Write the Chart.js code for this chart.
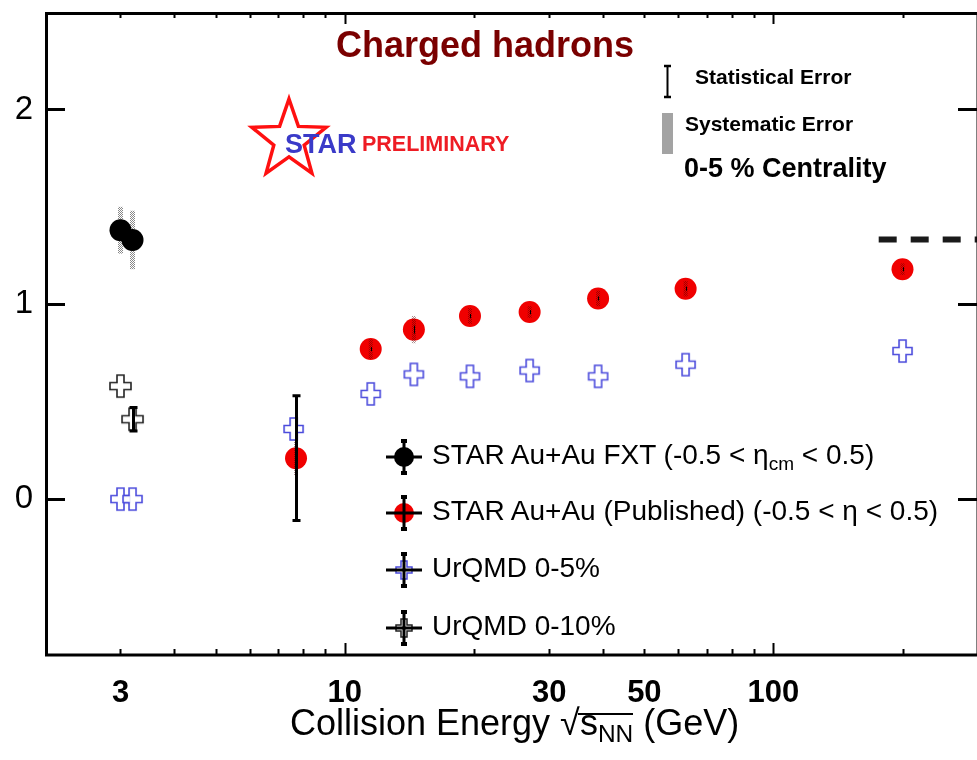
<!DOCTYPE html>
<html lang="en">
<head>
<meta charset="UTF-8">
<title>Charged hadrons</title>
<script src="https://cdn.jsdelivr.net/npm/chart.js"></script>
<style>
  body { margin: 0; overflow: hidden; background: #fff; font-family: 'Liberation Sans', Arial, Helvetica, sans-serif; }
  #wrap { position: relative; width: 977px; height: 760px; overflow: hidden; }
  #chart { position: absolute; left: 0; top: 0; }
  .t { position: absolute; white-space: nowrap; line-height: 1; color: #000; }
  .b { font-weight: bold; }
  .leg { position: absolute; left: 380px; height: 48px; }
  .leg canvas { position: absolute; left: 0; top: 0; }
  .leg span { position: absolute; left: 52px; white-space: nowrap; font-size: 28px; line-height: 1; top: 8px; }
  sub { font-size: 0.68em; vertical-align: -0.3em; line-height: 0; }
  .rad { position: relative; }
  .rad::before { content: ''; position: absolute; left: -2px; right: 0; top: 0.3em; border-top: 2px solid #000; }
</style>
</head>
<body>
<div id="wrap">
  <canvas id="chart" width="990" height="760"></canvas>

  <div class="t b" style="left:336px; top:27px; font-size:36px; color:#7a0000;">Charged hadrons</div>

  <svg style="position:absolute; left:0; top:0;" width="977" height="760">
    <polygon id="star" fill="none" stroke="#ff1010" stroke-width="3.5"></polygon>
    <line x1="667.5" y1="66" x2="667.5" y2="97" stroke="#000" stroke-width="2"></line>
    <line x1="664" y1="66" x2="671" y2="66" stroke="#000" stroke-width="2.5"></line>
    <line x1="664" y1="97" x2="671" y2="97" stroke="#000" stroke-width="2.5"></line>
    <rect x="662" y="113" width="11" height="41" fill="#a3a3a3"></rect>
  </svg>
  <div class="t b" style="left:285px; top:131px; font-size:27px; color:#3a3ac8;">STAR</div>
  <div class="t b" style="left:362px; top:134px; font-size:21.5px; color:#ee1c24;">PRELIMINARY</div>

  <div class="t b" style="left:695px; top:66px; font-size:21px;">Statistical Error</div>
  <div class="t b" style="left:685px; top:113px; font-size:21px;">Systematic Error</div>
  <div class="t b" style="left:684px; top:155px; font-size:27px;">0-5 % Centrality</div>

  <div class="t" style="left:290px; top:705px; font-size:36px;">Collision Energy &#x221A;<span class="rad">s<sub>NN</sub></span> (GeV)</div>

  <div class="leg" id="leg1" style="top:433px;"><canvas width="48" height="48"></canvas><span>STAR Au+Au FXT (-0.5 &lt; &#x03B7;<sub>cm</sub> &lt; 0.5)</span></div>
  <div class="leg" id="leg2" style="top:489px;"><canvas width="48" height="48"></canvas><span>STAR Au+Au (Published) (-0.5 &lt; &#x03B7; &lt; 0.5)</span></div>
  <div class="leg" id="leg3" style="top:546px;"><canvas width="48" height="48"></canvas><span>UrQMD 0-5%</span></div>
  <div class="leg" id="leg4" style="top:604px;"><canvas width="48" height="48"></canvas><span>UrQMD 0-10%</span></div>
</div>

<script>
// STAR FXT (fixed target)
const fxtEnergy = [3.0, 3.2];
const fxtValue = [1.38, 1.33];
const fxtStat = [0.01, 0.01];
const fxtSys = [0.12, 0.15];

// STAR published (collider)
const pubEnergy = [7.7, 11.5, 14.5, 19.6, 27, 39, 62.4, 200];
const pubValue = [0.21, 0.77, 0.87, 0.94, 0.96, 1.03, 1.08, 1.18];
const pubStat = [0.32, 0.01, 0.02, 0.01, 0.01, 0.01, 0.01, 0.01];
const pubSys = [0.09, 0.05, 0.07, 0.04, 0.03, 0.04, 0.04, 0.03];

// UrQMD
const urqmd5Energy = [3.0, 3.2, 7.6, 11.5, 14.5, 19.6, 27, 39, 62.4, 200];
const urqmd5Value = [0.0, 0.0, 0.36, 0.54, 0.64, 0.63, 0.66, 0.63, 0.69, 0.76];
const urqmd10Energy = [3.0, 3.2];
const urqmd10Value = [0.58, 0.41];
const urqmd10Stat = [0, 0.06];

// dashed reference line
const refEnergy = [176, 300];
const refValue = [1.333, 1.333];

const xTickLabels = [3, 10, 30, 50, 100];
const xTickMarks = [3, 4, 5, 6, 7, 8, 9, 10, 20, 30, 40, 50, 60, 70, 80, 90, 100, 200];
const yTickLabels = [0, 1, 2];

const FONT = "'Liberation Sans', Arial, Helvetica, sans-serif";
const BLUE = '#4b4bdc';
const RED = '#f00000';

function pts(xs, ys) { return xs.map((x, i) => ({ x: x, y: ys[i] })); }

// open "+" marker as a small canvas
function crossShape(ctx, cx, cy, w, h, a) {
    const hw = w / 2, hh = h / 2, ha = a / 2;
    ctx.beginPath();
    ctx.moveTo(cx - ha, cy - hh);
    ctx.lineTo(cx + ha, cy - hh);
    ctx.lineTo(cx + ha, cy - ha);
    ctx.lineTo(cx + hw, cy - ha);
    ctx.lineTo(cx + hw, cy + ha);
    ctx.lineTo(cx + ha, cy + ha);
    ctx.lineTo(cx + ha, cy + hh);
    ctx.lineTo(cx - ha, cy + hh);
    ctx.lineTo(cx - ha, cy + ha);
    ctx.lineTo(cx - hw, cy + ha);
    ctx.lineTo(cx - hw, cy - ha);
    ctx.lineTo(cx - ha, cy - ha);
    ctx.closePath();
}
function makeCross(color, w, h, a) {
    const c = document.createElement('canvas');
    c.width = w + 4; c.height = h + 4;
    const g = c.getContext('2d');
    crossShape(g, c.width / 2, c.height / 2, w, h, a);
    g.fillStyle = 'rgba(255,255,255,0.9)';
    g.fill();
    g.strokeStyle = color;
    g.lineWidth = 1.6;
    g.stroke();
    return c;
}
const blueCross = makeCross(BLUE, 19, 22, 7);
const blackCross = makeCross('#222', 21, 22, 7);

function dotPattern(ctx, color) {
    const c = document.createElement('canvas');
    c.width = 2; c.height = 2;
    const g = c.getContext('2d');
    g.fillStyle = color;
    g.fillRect(0, 0, 1, 1);
    g.fillRect(1, 1, 1, 1);
    return ctx.createPattern(c, 'repeat');
}

function drawSys(chart, xs, ys, errs, w, fill) {
    const ctx = chart.ctx, sx = chart.scales.x, sy = chart.scales.y;
    ctx.save();
    ctx.fillStyle = fill;
    xs.forEach((x, i) => {
        const px = sx.getPixelForValue(x);
        const t = sy.getPixelForValue(ys[i] + errs[i]);
        const b = sy.getPixelForValue(ys[i] - errs[i]);
        ctx.fillRect(px - w / 2, t, w, b - t);
    });
    ctx.restore();
}

function drawStat(chart, xs, ys, errs) {
    const ctx = chart.ctx, sx = chart.scales.x, sy = chart.scales.y;
    ctx.save();
    ctx.strokeStyle = '#000';
    xs.forEach((x, i) => {
        if (!errs[i]) return;
        const px = Math.round(sx.getPixelForValue(x)) + 0.5;
        const t = sy.getPixelForValue(ys[i] + errs[i]);
        const b = sy.getPixelForValue(ys[i] - errs[i]);
        const big = errs[i] > 0.03;
        ctx.lineWidth = big ? 3 : 1;
        ctx.beginPath();
        ctx.moveTo(px, t); ctx.lineTo(px, b);
        ctx.stroke();
        if (big) {
            ctx.lineWidth = 3;
            ctx.beginPath();
            ctx.moveTo(px - 4, t); ctx.lineTo(px + 4, t);
            ctx.moveTo(px - 4, b); ctx.lineTo(px + 4, b);
            ctx.stroke();
        }
    });
    ctx.restore();
}

const errorBars = {
    id: 'errorBars',
    beforeDatasetsDraw(chart) {
        drawSys(chart, fxtEnergy, fxtValue, fxtSys, 5, dotPattern(chart.ctx, '#888'));
    },
    afterDatasetsDraw(chart) {
        drawSys(chart, pubEnergy, pubValue, pubSys, 4, dotPattern(chart.ctx, 'rgba(70,0,0,0.45)'));
        drawStat(chart, pubEnergy, pubValue, pubStat);
        drawStat(chart, urqmd10Energy, urqmd10Value, urqmd10Stat);
    }
};

// frame with inward ticks on all four sides
const frame = {
    id: 'frame',
    afterDraw(chart) {
        const ctx = chart.ctx, a = chart.chartArea, sx = chart.scales.x, sy = chart.scales.y;
        ctx.save();
        ctx.strokeStyle = '#000';
        ctx.lineWidth = 3;
        ctx.strokeRect(a.left + 1.5, a.top + 1.5, a.right - a.left - 1.5, a.bottom - a.top - 1.5);
        ctx.lineWidth = 2;
        ctx.beginPath();
        xTickMarks.forEach(v => {
            const px = Math.round(sx.getPixelForValue(v)) + 0.5;
            const len = (v === 10 || v === 100) ? 12 : 6;
            ctx.moveTo(px, a.bottom); ctx.lineTo(px, a.bottom - len);
            ctx.moveTo(px, a.top); ctx.lineTo(px, a.top + len);
        });
        ctx.stroke();
        ctx.lineWidth = 3;
        ctx.beginPath();
        yTickLabels.forEach(v => {
            const py = Math.round(sy.getPixelForValue(v)) + 0.5;
            ctx.moveTo(a.left, py); ctx.lineTo(a.left + 20, py);
            ctx.moveTo(a.right, py); ctx.lineTo(a.right - 20, py);
        });
        ctx.stroke();
        ctx.restore();
    }
};

const chart = new Chart(document.getElementById('chart').getContext('2d'), {
    type: 'scatter',
    data: {
        datasets: [
            { label: 'STAR Au+Au FXT', data: pts(fxtEnergy, fxtValue), pointRadius: 11, pointHoverRadius: 11,
              backgroundColor: '#000', borderColor: '#000', borderWidth: 0 },
            { label: 'STAR Au+Au (Published)', data: pts(pubEnergy, pubValue), pointRadius: 11, pointHoverRadius: 11,
              backgroundColor: RED, borderColor: RED, borderWidth: 0 },
            { label: 'UrQMD 0-10%', data: pts(urqmd10Energy, urqmd10Value), pointStyle: blackCross, pointRadius: 11 },
            { label: 'UrQMD 0-5%', data: pts(urqmd5Energy, urqmd5Value), pointStyle: blueCross, pointRadius: 11 },
            { label: 'ref', data: pts(refEnergy, refValue), showLine: true, pointRadius: 0,
              borderColor: '#1a1a1a', borderWidth: 6, borderDash: [18, 14] }
        ]
    },
    options: {
        responsive: false,
        animation: false,
        layout: { padding: { top: 9, right: 10, left: 0, bottom: 0 } },
        plugins: { legend: { display: false }, tooltip: { enabled: false } },
        scales: {
            x: {
                type: 'logarithmic', min: 2, max: 300,
                afterBuildTicks: s => { s.ticks = xTickLabels.map(v => ({ value: v })); },
                afterFit: s => { s.height = 105; s.paddingLeft = 0; s.paddingRight = 0; },
                grid: { display: false, drawTicks: false }, border: { display: false },
                ticks: { autoSkip: false, maxRotation: 0, padding: 20, color: '#000',
                         font: { family: FONT, size: 31, weight: 'bold' }, callback: v => String(v) }
            },
            y: {
                min: -0.8, max: 2.5,
                afterBuildTicks: s => { s.ticks = yTickLabels.map(v => ({ value: v })); },
                afterFit: s => { s.width = 45; s.paddingTop = 0; s.paddingBottom = 0; },
                grid: { display: false, drawTicks: false }, border: { display: false },
                ticks: { padding: 12, color: '#000', font: { family: FONT, size: 33 } }
            }
        }
    },
    plugins: [errorBars, frame]
});

// STAR logo star outline
(function () {
    const cx = 289, cy = 140, R = 39, r = 16, p = [];
    for (let i = 0; i < 10; i++) {
        const ang = -Math.PI / 2 + i * Math.PI / 5;
        const rad = i % 2 ? r : R;
        p.push((cx + rad * Math.cos(ang)).toFixed(1) + ',' + (cy + rad * Math.sin(ang) * 1.05).toFixed(1));
    }
    document.getElementById('star').setAttribute('points', p.join(' '));
})();

// legend symbols
function legendSymbol(id, kind) {
    const g = document.querySelector('#' + id + ' canvas').getContext('2d');
    const c = 24;
    if (kind === 'fxt' || kind === 'pub') {
        g.fillStyle = kind === 'fxt' ? '#000' : RED;
        g.beginPath(); g.arc(c, c, 10, 0, Math.PI * 2); g.fill();
    } else {
        crossShape(g, c, c, 16, 18, 6);
        g.strokeStyle = kind === 'u5' ? BLUE : '#222';
        g.lineWidth = 1.5;
        g.stroke();
    }
    g.strokeStyle = '#000';
    g.lineWidth = 3;
    g.beginPath();
    g.moveTo(6, c); g.lineTo(42, c);
    g.moveTo(c, c - 17); g.lineTo(c, c + 17);
    g.stroke();
    g.lineWidth = 4;
    g.beginPath();
    g.moveTo(c - 3, c - 16); g.lineTo(c + 3, c - 16);
    g.moveTo(c - 3, c + 16); g.lineTo(c + 3, c + 16);
    g.stroke();
}
legendSymbol('leg1', 'fxt');
legendSymbol('leg2', 'pub');
legendSymbol('leg3', 'u5');
legendSymbol('leg4', 'u10');
</script>
</body>
</html>
